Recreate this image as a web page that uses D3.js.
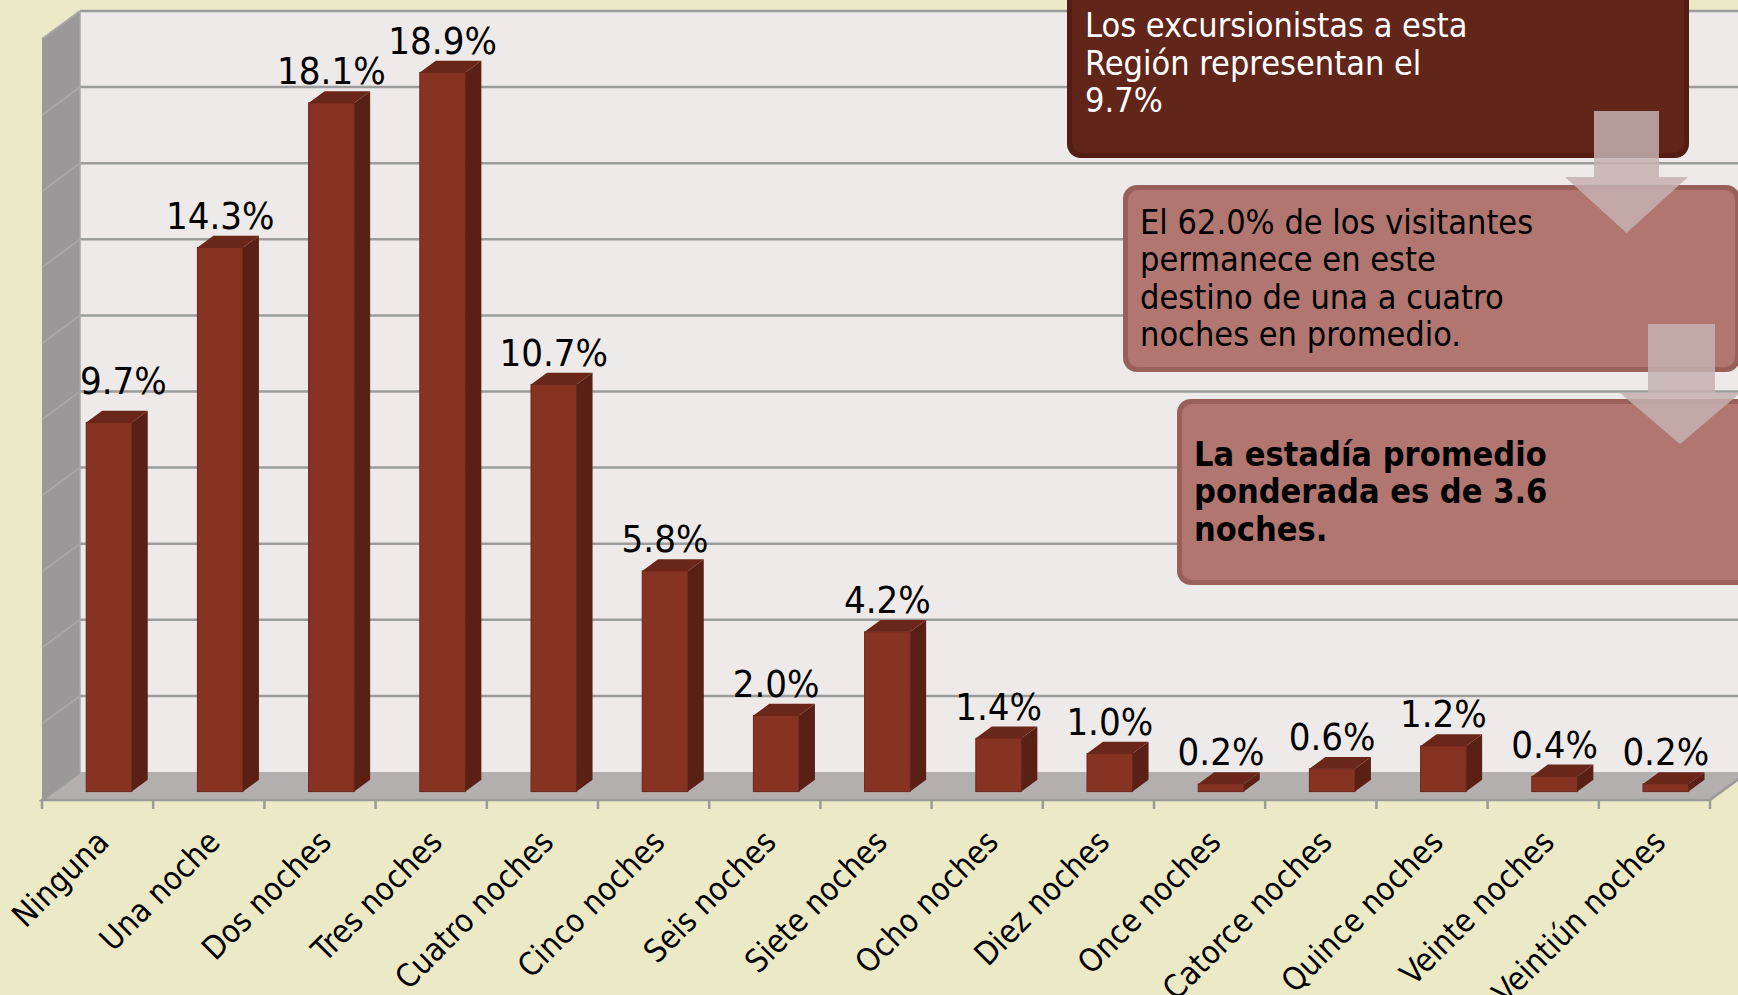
<!DOCTYPE html>
<html>
<head>
<meta charset="utf-8">
<script src="https://cdn.jsdelivr.net/npm/d3@7"></script>
<style>
  body { margin: 0; background: #ece9c6; }
  svg { display: block; }
  text { font-family: "DejaVu Sans Condensed", "DejaVu Sans", sans-serif; font-stretch: condensed; }
</style>
</head>
<body>
<svg id="chart" width="1738" height="995"></svg>
<script>
var categories = ["Ninguna", "Una noche", "Dos noches", "Tres noches", "Cuatro noches",
  "Cinco noches", "Seis noches", "Siete noches", "Ocho noches", "Diez noches",
  "Once noches", "Catorce noches", "Quince noches", "Veinte noches", "Veintiún noches"];
var values = [9.7, 14.3, 18.1, 18.9, 10.7, 5.8, 2.0, 4.2, 1.4, 1.0, 0.2, 0.6, 1.2, 0.4, 0.2];
var yTicks = [0, 2, 4, 6, 8, 10, 12, 14, 16, 18, 20];

var note1 = ["Los excursionistas a esta", "Región representan el", "9.7%"];
var note2 = ["El 62.0% de los visitantes", "permanece en este", "destino de una a cuatro", "noches en promedio."];
var note3 = ["La estadía promedio", "ponderada es de 3.6", "noches."];

var svg = d3.select("#chart");

// front plane scales, depth is added with an offset
var x = d3.scaleBand().domain(categories).range([42, 1710]);
var y = d3.scaleLinear().domain([0, 20]).range([800, 39]);
var depth = {dx: 38, dy: -28};
var barT0 = 0.3, barT1 = 0.72;
var barW = x.bandwidth() * 0.41;

function px(xv, t) { return xv + t * depth.dx; }
function py(v, t) { return y(v) + t * depth.dy; }

var xL = x.range()[0], xR = x.range()[1];

// back wall
svg.append("rect")
  .attr("x", px(xL, 1)).attr("y", py(20, 1))
  .attr("width", 1738 - px(xL, 1)).attr("height", py(0, 1) - py(20, 1))
  .attr("fill", "#edeae9");

// side wall
svg.append("polygon")
  .attr("points", [[px(xL, 0), py(20, 0)], [px(xL, 1), py(20, 1)], [px(xL, 1), py(0, 1)], [px(xL, 0), py(0, 0)]].join(" "))
  .attr("fill", "#9a9898");

// floor
svg.append("polygon")
  .attr("points", [[px(xL, 0), py(0, 0)], [px(xR, 0), py(0, 0)], [px(xR, 1), py(0, 1)], [px(xL, 1), py(0, 1)]].join(" "))
  .attr("fill", "#b3afae");

// gridlines on back and side wall
var grid = svg.append("g");
grid.selectAll("line.back").data(yTicks.slice(1)).enter().append("line")
  .attr("class", "back")
  .attr("x1", px(xL, 1)).attr("x2", 1738)
  .attr("y1", (d) => py(d, 1)).attr("y2", (d) => py(d, 1))
  .attr("stroke", "#9c9c9c").attr("stroke-width", 2.5);
grid.selectAll("line.side").data(yTicks.slice(1)).enter().append("line")
  .attr("class", "side")
  .attr("x1", px(xL, 0)).attr("x2", px(xL, 1))
  .attr("y1", (d) => py(d, 0)).attr("y2", (d) => py(d, 1))
  .attr("stroke", "#a9a7a7").attr("stroke-width", 2);
grid.append("line")
  .attr("x1", px(xL, 1)).attr("x2", px(xL, 1))
  .attr("y1", py(20, 1)).attr("y2", py(0, 1))
  .attr("stroke", "#a9a7a7").attr("stroke-width", 1.5);

// floor edges and category ticks
var axis = svg.append("g").attr("stroke", "#9a9a9a").attr("stroke-width", 2.5);
axis.append("polyline")
  .attr("points", [[px(xL, 1), py(0, 1)], [px(xL, 0), py(0, 0)], [px(xR, 0), py(0, 0)], [px(xR, 1), py(0, 1)]].join(" "))
  .attr("fill", "none");
axis.selectAll("line").data(categories.concat(["end"])).enter().append("line")
  .attr("x1", (d, i) => xL + i * x.step()).attr("x2", (d, i) => xL + i * x.step())
  .attr("y1", y(0)).attr("y2", y(0) + 9);

// bars
var bars = svg.append("g").selectAll("g").data(values).enter().append("g");
var bdx = (barT1 - barT0) * depth.dx, bdy = (barT1 - barT0) * depth.dy;
function bx(d, i) { return px(x(categories[i]) + (x.bandwidth() - barW) / 2, barT0); }

bars.append("rect")
  .attr("x", bx)
  .attr("y", (d) => py(d, barT0))
  .attr("width", barW)
  .attr("height", (d) => py(0, barT0) - py(d, barT0))
  .attr("fill", "#873323").attr("stroke", "#6e2619").attr("stroke-width", 1);
bars.append("polygon")
  .attr("points", function(d, i) {
    var x0 = bx(d, i) + barW, yt = py(d, barT0), yb = py(0, barT0);
    return [[x0, yt], [x0 + bdx, yt + bdy], [x0 + bdx, yb + bdy], [x0, yb]].join(" ");
  })
  .attr("fill", "#5a2016");
bars.append("polygon")
  .attr("points", function(d, i) {
    var x0 = bx(d, i), yt = py(d, barT0);
    return [[x0, yt], [x0 + bdx, yt + bdy], [x0 + barW + bdx, yt + bdy], [x0 + barW, yt]].join(" ");
  })
  .attr("fill", "#6a2719");

// value labels, kept inside the plot area like the spreadsheet does
var wallLeft = px(xL, 1);
svg.append("g").selectAll("text").data(values).enter().append("text")
  .attr("y", (d) => py(d, barT1) - 7)
  .attr("font-size", 38)
  .attr("fill", "#000")
  .text((d) => d.toFixed(1) + "%")
  .each(function(d, i) {
    var w = this.getComputedTextLength();
    var cx = bx(d, i) + barW / 2;
    var sel = d3.select(this).attr("x", Math.max(wallLeft, cx - w / 2));
    if (cx - w / 2 < wallLeft) sel.attr("y", py(d, barT1) - 17);
  });

// category labels
svg.append("g").selectAll("text").data(categories).enter().append("text")
  .attr("transform", (d) => "translate(" + (x(d) + x.bandwidth() / 2 + 13) + "," + (y(0) + 44) + ") rotate(-45)")
  .attr("text-anchor", "end")
  .attr("font-size", 32)
  .attr("fill", "#000")
  .text((d) => d);

// note boxes and arrows
function noteBox(bx0, by0, w, h, fill, edge, lines, color, bold, tx, ty, lh, fs) {
  var g = svg.append("g");
  g.append("rect").attr("x", bx0).attr("y", by0).attr("width", w).attr("height", h)
    .attr("rx", 14).attr("fill", edge);
  g.append("rect").attr("x", bx0 + 5).attr("y", by0 + 5).attr("width", w - 10).attr("height", h - 10)
    .attr("rx", 10).attr("fill", fill);
  g.selectAll("text").data(lines).enter().append("text")
    .attr("x", tx).attr("y", (d, i) => ty + i * lh)
    .attr("font-size", fs).attr("font-weight", bold ? "bold" : "normal")
    .attr("fill", color).text((d) => d);
}
function arrow(sx0, sx1, sy0, sy1, hx0, hx1, tipY) {
  var mid = (hx0 + hx1) / 2;
  svg.append("polygon")
    .attr("points", [[sx0, sy0], [sx1, sy0], [sx1, sy1], [hx1, sy1], [mid, tipY], [hx0, sy1], [sx0, sy1]].join(" "))
    .attr("fill", "#c4b1b0").attr("fill-opacity", 0.85);
}

noteBox(1067, -14, 622, 172, "#622519", "#531d14", note1, "#fff", false, 1085, 37, 37.5, 34);
noteBox(1123, 185, 617, 187, "#b27670", "#996059", note2, "#000", false, 1140, 234, 37.3, 34);
noteBox(1177, 399, 600, 186, "#b27670", "#996059", note3, "#000", true, 1194, 466, 37.3, 34);
arrow(1594, 1659, 111, 177, 1565, 1688, 233);
arrow(1648, 1715, 324, 393, 1620, 1740, 444);
</script>
</body>
</html>
